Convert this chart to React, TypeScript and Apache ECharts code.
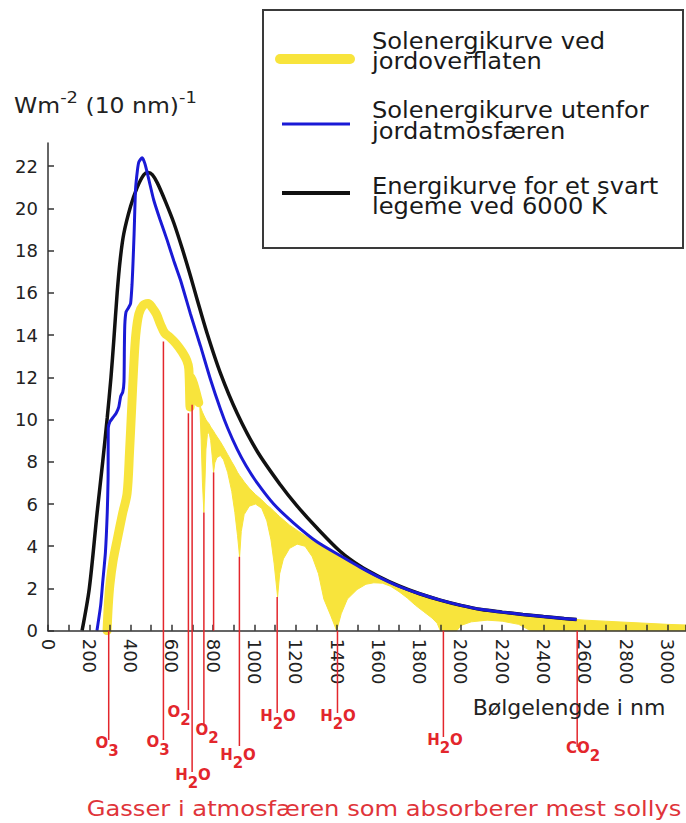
import React, { useEffect, useRef } from "react";
import * as echarts from "echarts";

const FONT = "DejaVu Sans, Verdana, sans-serif";
const YELLOW = "#f8e43c";
const BLUE = "#1a1ad6";
const BLACK = "#111111";
const RED = "#e3262c";

// Black body curve (6000 K), W m^-2 (10 nm)^-1
const blackWl = [165, 200, 238, 265, 287, 305, 319, 335, 350, 367, 400, 432, 464, 485, 505, 530, 570, 610, 650, 690, 722, 770, 835, 916, 1013, 1126, 1207, 1304, 1416, 1513, 1600, 1700, 1800, 1900, 2000, 2100, 2200, 2300, 2400, 2500, 2560];
const blackVal = [0, 2.0, 5.6, 8.0, 10.1, 12.0, 13.8, 16.0, 17.6, 18.8, 20.1, 21.0, 21.6, 21.7, 21.6, 21.2, 20.3, 19.3, 18.1, 16.8, 15.7, 14.1, 12.2, 10.3, 8.5, 6.9, 5.9, 4.85, 3.75, 3.05, 2.58, 2.12, 1.75, 1.45, 1.2, 1.0, 0.88, 0.77, 0.67, 0.58, 0.53];

// Sun outside the atmosphere
const blueWl = [237, 255, 265, 278, 287, 291, 292, 300, 315, 330, 343, 352, 362, 368, 370, 372, 378, 390, 400, 407, 412, 417, 424, 433, 440, 456, 470, 490, 512, 545, 577, 610, 642, 690, 738, 787, 835, 870, 916, 960, 1013, 1093, 1190, 1304, 1416, 1513, 1600, 1700, 1800, 1900, 2000, 2100, 2200, 2300, 2400, 2500, 2560];
const blueVal = [0, 1.2, 2.3, 3.7, 5.6, 7.2, 9.6, 9.9, 10.1, 10.3, 10.6, 11.1, 11.3, 11.8, 13.5, 14.5, 15.1, 15.3, 15.5, 16.4, 17.5, 18.8, 20.9, 21.8, 22.2, 22.4, 22.1, 21.3, 20.4, 19.4, 18.5, 17.5, 16.6, 15.0, 13.5, 11.9, 10.5, 9.6, 8.6, 7.8, 7.0, 6.0, 5.1, 4.2, 3.55, 3.0, 2.55, 2.1, 1.75, 1.45, 1.2, 1.0, 0.88, 0.77, 0.67, 0.58, 0.53];

// Sun at the Earth's surface (visible part, thick line)
const surfWl = [286, 292, 300, 315, 335, 360, 383, 395, 405, 415, 425, 440, 460, 485, 505, 525, 545, 565, 590, 620, 650, 672, 682, 688, 693, 705, 722, 730];
const surfVal = [0, 1.2, 2.2, 3.3, 4.3, 5.5, 6.5, 8.5, 10.5, 12.5, 14.0, 15.0, 15.4, 15.5, 15.3, 15.0, 14.5, 14.1, 13.9, 13.6, 13.2, 12.8, 12.4, 10.6, 12.0, 11.7, 11.1, 10.8];

// Absorption bands: lower edge (surface curve with dips) and upper edge
const bandWl = [700, 722, 735, 742, 748, 755, 760, 765, 772, 780, 788, 795, 802, 808, 818, 835, 850, 870, 890, 905, 918, 928, 936, 950, 975, 1005, 1035, 1060, 1080, 1095, 1112, 1122, 1140, 1170, 1207, 1245, 1280, 1310, 1336, 1370, 1398, 1420, 1450, 1497, 1540, 1578, 1620, 1660, 1700, 1740, 1780, 1820, 1860, 1885, 1900, 1980, 2000, 2050, 2127, 2200, 2280, 2337, 2400, 2500, 2600, 2700, 2800, 2900, 3000, 3090];
const bandLow = [11.7, 11.1, 10.7, 9.0, 7.0, 5.6, 7.0, 8.6, 9.3, 9.4, 9.0, 8.3, 7.5, 7.95, 8.2, 8.3, 8.1, 7.5, 6.6, 5.6, 4.5, 3.5, 4.7, 5.5, 5.9, 6.0, 5.8, 5.2, 4.3, 3.2, 1.6, 2.7, 3.4, 3.9, 4.1, 4.0, 3.5, 2.7, 1.5, 0.7, 0, 0.8, 1.5, 1.95, 2.2, 2.27, 2.25, 2.1, 1.85, 1.55, 1.2, 0.9, 0.6, 0.35, 0, 0, 0.25, 0.42, 0.5, 0.45, 0.3, 0, 0, 0, 0, 0, 0, 0, 0, 0];
const bandHigh = [11.7, 11.1, 10.7, 10.5, 10.35, 10.2, 10.1, 10.0, 9.9, 9.8, 9.65, 9.55, 9.45, 9.35, 9.2, 8.95, 8.7, 8.35, 8.0, 7.75, 7.5, 7.35, 7.25, 7.05, 6.75, 6.45, 6.2, 5.95, 5.8, 5.65, 5.5, 5.4, 5.25, 5.0, 4.75, 4.5, 4.3, 4.12, 3.95, 3.75, 3.6, 3.45, 3.3, 3.05, 2.85, 2.72, 2.5, 2.32, 2.12, 1.98, 1.82, 1.67, 1.55, 1.48, 1.43, 1.22, 1.18, 1.08, 0.96, 0.88, 0.79, 0.73, 0.67, 0.58, 0.5, 0.45, 0.4, 0.35, 0.3, 0.27];

// Absorbing gases: wavelength, top of marker (value), gas
const absWl = [294, 559, 680, 698, 755, 802, 927, 1110, 1402, 1915, 2563];
const absTop = [0, 13.7, 10.3, 10.7, 5.6, 7.5, 3.5, 1.6, 0, 0, 0];
const absGas = ["O3", "O3", "O2", "H2O", "O2", "", "H2O", "H2O", "H2O", "H2O", "CO2"];

// Annotation layout (pixels): end of the red leader and label centre
const absLineEnd = [740, 740, 710, 772, 725, 0, 746, 713, 713, 737, 747];
const absLabelX = [107, 158, 179, 193, 207, 0, 238, 278, 338, 445, 583];
const absLabelY = [747, 746, 716, 779, 734, 0, 759, 720, 720, 744, 752];

const legendItems = [
  { lines: ["Solenergikurve ved", "jordoverflaten"], color: YELLOW, width: 10 },
  { lines: ["Solenergikurve utenfor", "jordatmosfæren"], color: BLUE, width: 3 },
  { lines: ["Energikurve for et svart", "legeme ved 6000 K"], color: BLACK, width: 4 },
];

const zip = (xs: number[], ys: number[]) => xs.map((x, i) => [x, ys[i]]);

export default function App() {
  const ref = useRef<HTMLDivElement>(null);

  useEffect(() => {
    if (!ref.current) return;
    const chart = echarts.init(ref.current, null, { renderer: "svg" });
    const axisCommon = {
      axisLine: { show: true, lineStyle: { color: "#333", width: 1.5 } },
      axisTick: { show: true, inside: true, length: 6, lineStyle: { color: "#333", width: 1.5 } },
      splitLine: { show: false },
      z: 10,
    };
    chart.setOption({
      animation: false,
      textStyle: { fontFamily: FONT },
      grid: { left: 48, right: 0, top: 143, bottom: 192.3, containLabel: false },
      xAxis: {
        type: "value",
        min: 0,
        max: 3090,
        interval: 100,
        ...axisCommon,
        axisLabel: {
          rotate: -90,
          margin: 8,
          fontSize: 18,
          color: "#222",
          fontFamily: FONT,
          formatter: (v: number) => (Math.round(v) % 200 === 0 ? String(Math.round(v)) : ""),
        },
      },
      yAxis: {
        type: "value",
        min: 0,
        max: 23.1,
        interval: 2,
        ...axisCommon,
        axisLabel: {
          margin: 10,
          fontSize: 18,
          color: "#222",
          fontFamily: FONT,
          showMaxLabel: false,
          formatter: (v: number) => (Math.abs(v - Math.round(v)) < 1e-6 && Math.round(v) % 2 === 0 ? String(Math.round(v)) : ""),
        },
      },
      series: [
        {
          type: "custom",
          silent: true,
          z: 2,
          data: [[bandWl[0], bandLow[0]]],
          renderItem: (_params: any, api: any) => {
            const pts: number[][] = [];
            bandWl.forEach((w, i) => pts.push(api.coord([w, bandHigh[i]])));
            for (let i = bandWl.length - 1; i >= 0; i--) pts.push(api.coord([bandWl[i], bandLow[i]]));
            return {
              type: "polygon",
              shape: { points: pts, smooth: 0 },
              style: { fill: YELLOW, stroke: YELLOW, lineWidth: 1 },
            };
          },
        },
        {
          type: "line",
          data: zip(surfWl, surfVal),
          showSymbol: false,
          smooth: 0.3,
          silent: true,
          lineStyle: { color: YELLOW, width: 9, cap: "round", join: "round" },
          z: 3,
        },
        {
          type: "line",
          data: zip(blackWl, blackVal),
          showSymbol: false,
          smooth: 0.3,
          silent: true,
          lineStyle: { color: BLACK, width: 3.5 },
          z: 4,
        },
        {
          type: "line",
          data: zip(blueWl, blueVal),
          showSymbol: false,
          smooth: 0.2,
          silent: true,
          lineStyle: { color: BLUE, width: 3 },
          z: 5,
        },
      ],
    });

    const graphics: any[] = [];
    // absorption markers
    absWl.forEach((wl, i) => {
      const top = chart.convertToPixel({ gridIndex: 0 }, [wl, absTop[i]]) as number[];
      const base = chart.convertToPixel({ gridIndex: 0 }, [wl, 0]) as number[];
      const end = absGas[i] ? absLineEnd[i] : base[1];
      graphics.push({
        type: "line",
        z: 100,
        silent: true,
        shape: { x1: top[0], y1: top[1], x2: top[0], y2: end },
        style: { stroke: RED, lineWidth: 1.5 },
      });
      if (absGas[i]) {
        const txt = absGas[i].split("").map((c) => (/\d/.test(c) ? `{s|${c}}` : `{m|${c}}`)).join("");
        graphics.push({
          type: "text",
          z: 100,
          silent: true,
          x: absLabelX[i],
          y: absLabelY[i] - 8,
          style: {
            text: txt,
            align: "center",
            verticalAlign: "top",
            rich: {
              m: { fontSize: 15, fontWeight: "bold", fontFamily: FONT, fill: RED, color: RED, lineHeight: 16, padding: [0, 0, 8, 0] },
              s: { fontSize: 15, fontWeight: "bold", fontFamily: FONT, fill: RED, color: RED, lineHeight: 16, padding: [8, 0, 0, 0] },
            },
          },
        });
      }
    });

    // y axis title
    graphics.push({
      type: "text",
      z: 100,
      x: 14,
      y: 91,
      scaleX: 1.12,
      style: {
        text: "{a|Wm}{b|-2}{a| (10 nm)}{b|-1}",
        verticalAlign: "top",
        align: "left",
        rich: {
          a: { fontSize: 21, fontFamily: FONT, fill: "#222", color: "#222", lineHeight: 22, padding: [6, 0, 0, 0] },
          b: { fontSize: 16, fontFamily: FONT, fill: "#222", color: "#222", lineHeight: 18, padding: [0, 0, 10, 0] },
        },
      },
    });

    // x axis name
    graphics.push({
      type: "text",
      z: 100,
      x: 569,
      y: 707,
      style: { text: "Bølgelengde i nm", fontSize: 22, fontFamily: FONT, fill: "#222", align: "center", verticalAlign: "middle" },
    });

    // caption
    graphics.push({
      type: "text",
      z: 100,
      x: 384,
      y: 808,
      scaleX: 1.1,
      style: {
        text: "Gasser i atmosfæren som absorberer mest sollys",
        fontSize: 22,
        fontFamily: FONT,
        fill: "#e0343a",
        align: "center",
        verticalAlign: "middle",
      },
    });

    // legend
    graphics.push({
      type: "rect",
      z: 90,
      shape: { x: 263, y: 10, width: 420, height: 238 },
      style: { fill: "#fff", stroke: "#3a3a3a", lineWidth: 2 },
    });
    const legendLineY = [59, 124, 193];
    const legendTextY = [
      [41.5, 61.5],
      [109.7, 131.3],
      [186.3, 206.3],
    ];
    legendItems.forEach((it, i) => {
      graphics.push({
        type: "line",
        z: 95,
        shape: { x1: i === 0 ? 280 : 282, y1: legendLineY[i], x2: 350, y2: legendLineY[i] },
        style: { stroke: it.color, lineWidth: it.width, lineCap: i === 0 ? "round" : "butt" },
      });
      it.lines.forEach((ln, j) => {
        graphics.push({
          type: "text",
          z: 95,
          x: 372,
          y: legendTextY[i][j],
          scaleX: 1.05,
          style: { text: ln, fontSize: 23, fontFamily: FONT, fill: "#1a1a1a", align: "left", verticalAlign: "middle" },
        });
      });
    });

    chart.setOption({ graphic: graphics });
    return () => chart.dispose();
  }, []);

  return <div ref={ref} style={{ position: "absolute", left: 0, top: 0, width: 686, height: 823 }} />;
}
